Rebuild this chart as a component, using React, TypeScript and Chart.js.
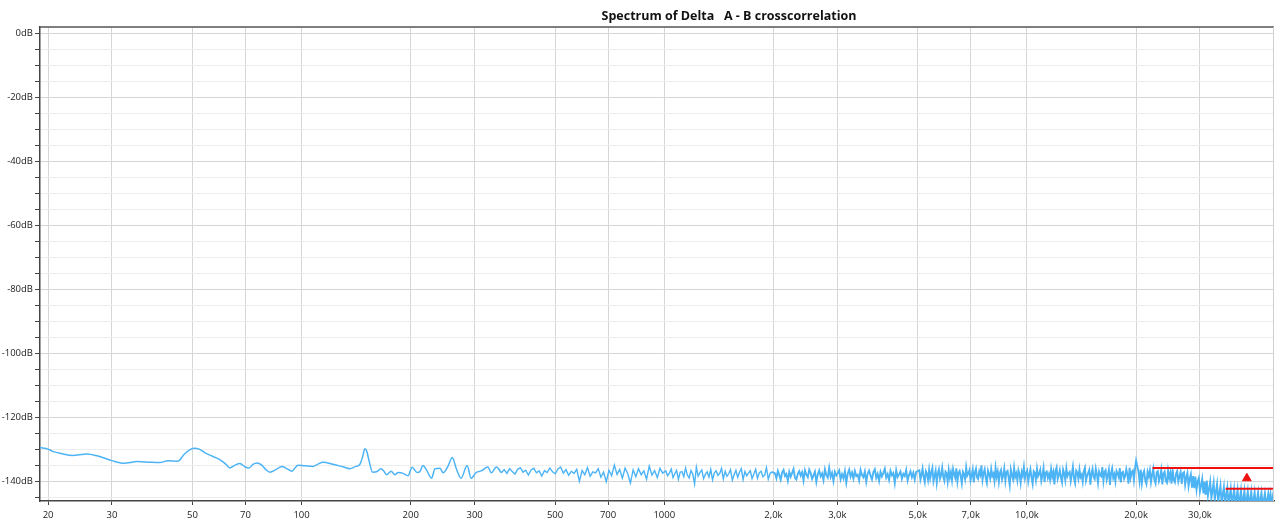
import React, { useEffect, useRef } from "react";
import { Chart, registerables } from "chart.js";

Chart.register(...registerables);

const TITLE = "Spectrum of Delta   A - B crosscorrelation";

const X_TICKS = [20, 30, 50, 70, 100, 200, 300, 500, 700, 1000, 2000, 3000, 5000, 7000, 10000, 20000, 30000];
const X_TICK_LABELS = ["20", "30", "50", "70", "100", "200", "300", "500", "700", "1000", "2,0k", "3,0k", "5,0k", "7,0k", "10,0k", "20,0k", "30,0k"];
const Y_TICKS = [0, -5, -10, -15, -20, -25, -30, -35, -40, -45, -50, -55, -60, -65, -70, -75, -80, -85, -90, -95, -100, -105, -110, -115, -120, -125, -130, -135, -140, -145];

// Smooth low-frequency part (Hz / dB)
const LOW_FREQ = [19.0, 20.0, 20.6, 22.0, 23.3, 25.6, 27.3, 30.0, 32.3, 35.3, 38.2, 40.7, 42.8, 45.6, 47.4, 48.9, 50.5, 52.2, 54.2, 57.0, 59.9, 61.8, 63.4, 65.5, 67.6, 69.8, 71.6, 73.4, 75.3, 77.7, 79.7, 81.8, 84.9, 88.3, 91.1, 94.0, 97.7, 102.1, 107.4, 110.9, 114.5, 121.9, 129.9, 135.9, 141.0, 144.7, 147.5, 149.4, 151.3, 153.3, 157.0, 161.5, 165.4, 168.5, 171.4, 176.6, 180.8, 184.6, 189.9, 196.6, 201.7, 208.1, 211.6, 216.2, 221.0, 228.2, 233.3, 240.8, 245.7, 253.0, 260.4, 266.7, 275.3, 286.0, 293.4, 303.0, 313.1, 326.2, 333.6, 344.4, 355.6];
const LOW_DB = [-129.3, -129.8, -130.5, -131.3, -131.8, -131.3, -131.9, -133.4, -134.2, -133.7, -133.9, -134.0, -133.4, -133.6, -131.5, -130.2, -129.5, -129.8, -131.0, -132.1, -133.3, -134.5, -135.7, -134.8, -134.3, -135.3, -135.7, -134.6, -134.1, -134.8, -136.2, -137.0, -136.2, -135.2, -135.9, -136.7, -134.8, -135.0, -135.2, -134.5, -133.9, -134.5, -135.3, -135.9, -135.2, -134.6, -132.0, -129.7, -130.5, -133.2, -137.0, -136.8, -135.9, -136.6, -137.8, -136.7, -137.8, -137.1, -137.3, -138.1, -135.5, -137.1, -136.9, -134.9, -136.3, -138.9, -135.9, -135.8, -137.2, -135.3, -132.4, -135.7, -138.9, -134.9, -138.9, -137.1, -136.6, -135.4, -137.2, -135.4, -137.2];

// Noisy part: FFT bins, each band given by its frequency range and its dB readings
const NOISE_1_RANGE = [362, 990];
const NOISE_1_DB = [-136.2, -137.4, -135.9, -136.8, -137.6, -136.1, -135.6, -137.0, -136.4, -137.9, -136.3, -135.8, -137.2, -136.6, -138.2, -136.5, -137.1, -135.7, -136.9, -137.5, -136.0, -135.4, -137.3, -136.2, -138.0, -136.7, -137.4, -136.1, -139.8, -136.5, -137.8, -135.6, -138.3, -136.9, -137.2, -135.9, -138.6, -137.0, -140.0, -136.4, -138.1, -134.8, -137.7, -136.2, -138.9, -135.7, -137.5, -140.4, -136.3, -138.4, -135.9, -137.8, -136.6, -139.2, -135.1, -137.9, -136.5, -138.7, -135.8, -137.3];

const NOISE_2_RANGE = [1010, 1980];
const NOISE_2_DB = [
  -136.6, -138.1, -137.3, -136.0, -138.7, -137.5, -136.4, -139.2, -137.0, -136.8,
  -138.4, -135.7, -137.9, -138.8, -136.5, -137.6, -140.7, -135.4, -138.2, -137.1,
  -136.3, -139.0, -137.7, -136.9, -138.5, -136.1, -139.4, -137.2, -136.6, -138.0,
  -137.4, -135.8, -139.1, -136.7, -138.3, -137.5, -136.2, -139.5, -137.8, -136.4,
  -138.6, -137.0, -135.9, -139.3, -136.8, -138.1, -137.3, -136.5, -139.0, -137.6,
  -136.1, -138.9, -137.2, -136.7, -138.4, -137.9, -135.6, -139.2, -137.4, -136.9,
];

const NOISE_3_RANGE = [2020, 4950];
const NOISE_3_DB = [
  -137.4, -138.9, -136.6, -137.9, -139.4, -137.1, -136.3, -138.2, -137.6, -139.7,
  -136.9, -138.4, -137.2, -136.0, -138.8, -139.3, -137.5, -136.7, -138.1, -137.0,
  -139.6, -136.4, -137.8, -138.6, -136.2, -137.3, -139.1, -138.0, -136.8, -140.1,
  -137.7, -136.5, -138.3, -137.4, -139.5, -136.1, -137.9, -138.7, -135.6, -138.5,
  -137.2, -139.8, -136.9, -138.0, -137.3, -136.4, -139.2, -137.6, -138.9, -136.7,
  -140.3, -137.5, -136.2, -138.4, -137.1, -139.0, -136.6, -138.2, -137.8, -139.6,
  -136.3, -137.9, -138.6, -136.8, -140.0, -137.4, -136.5, -138.1, -139.3, -137.0,
  -136.1, -138.8, -137.5, -139.7, -136.9, -138.3, -137.2, -135.9, -138.7, -137.6,
  -139.4, -136.6, -138.0, -137.3, -140.4, -136.4, -138.5, -137.7, -136.8, -139.1,
  -137.5, -138.2, -136.3, -139.6, -137.9, -136.7, -138.6, -137.2, -139.3, -136.9,
];

const NOISE_4_RANGE = [5050, 20000];
const NOISE_4_DB = [
  -136.4, -139.3, -137.8, -135.9, -138.6, -140.1, -136.7, -137.5, -139.4, -136.2,
  -138.9, -137.1, -135.7, -139.8, -138.2, -136.5, -140.3, -137.4, -136.1, -139.0,
  -137.9, -135.6, -138.5, -139.7, -136.8, -137.3, -140.0, -136.3, -138.7, -137.0,
  -139.5, -136.0, -137.6, -138.8, -135.8, -139.9, -137.2, -136.6, -138.3, -140.5,
  -136.9, -137.7, -139.2, -135.5, -138.1, -137.4, -136.4, -139.6, -138.0, -136.2,
  -140.2, -137.1, -135.9, -138.6, -139.1, -136.7, -137.8, -134.9, -139.4, -137.3,
  -136.1, -138.9, -140.4, -136.5, -137.6, -139.0, -136.0, -138.2, -137.5, -139.8,
  -135.7, -138.4, -136.8, -140.0, -137.2, -136.3, -139.3, -138.0, -135.8, -139.7,
  -137.0, -136.6, -138.7, -141.1, -136.2, -137.9, -139.2, -135.6, -138.5, -137.4,
  -139.6, -136.4, -137.7, -140.3, -136.9, -138.1, -135.4, -139.0, -137.3, -136.5,
  -139.9, -137.8, -136.1, -138.6, -140.6, -136.7, -137.2, -139.4, -135.9, -138.3,
  -137.5, -136.3, -139.7, -138.0, -135.7, -140.1, -137.1, -136.8, -138.8, -137.6,
  -139.3, -136.0, -138.4, -137.0, -140.8, -136.6, -135.5, -139.1, -137.9, -136.4,
  -138.7, -140.2, -136.2, -137.4, -139.5, -135.8, -138.2, -137.3, -136.9, -139.8,
  -137.7, -135.3, -138.9, -140.4, -136.5, -137.1, -139.0, -136.1, -138.5, -137.8,
  -140.0, -136.7, -135.6, -139.6, -138.1, -137.2, -136.3, -140.9, -137.5, -136.0,
  -138.6, -139.2, -135.9, -137.6, -140.3, -136.8, -137.9, -138.3, -135.4, -139.7,
  -137.0, -136.4, -139.4, -138.0, -136.2, -141.0, -137.3, -135.8, -138.8, -137.7,
  -139.9, -136.6, -137.4, -138.5, -135.7, -140.2, -137.1, -136.9, -139.1, -138.2,
  -136.1, -137.8, -140.6, -135.6, -138.7, -137.0, -136.5, -139.5, -135.9, -133.4,
];

const NOISE_5_RANGE = [20300, 48000];
const NOISE_5_DB = [
  -136.8, -139.9, -136.2, -140.4, -137.5, -136.6, -139.6, -140.7, -136.9, -138.3,
  -136.4, -140.1, -137.8, -135.9, -139.4, -140.5, -137.1, -136.7, -139.8, -138.6,
  -136.3, -140.8, -137.4, -136.8, -139.7, -140.3, -136.5, -138.9, -137.2, -140.6,
  -136.1, -139.5, -140.2, -137.6, -136.7, -139.9, -138.4, -136.9, -140.7, -137.3,
  -137.0, -140.9, -138.6, -137.2, -141.3, -139.0, -137.6, -141.8, -138.2, -142.0,
  -138.4, -142.5, -139.9, -138.8, -143.0, -141.2, -139.1, -143.6, -140.0, -144.1,
  -139.6, -144.4, -142.3, -140.0, -145.0, -142.8, -140.3, -145.6, -143.1, -140.7,
  -146.2, -143.5, -141.2, -146.8, -144.0, -141.6, -147.0, -144.3, -141.9, -147.0,
  -144.6, -142.1, -147.0, -144.9, -142.3, -147.0, -145.2, -142.5, -147.0, -145.4,
  -142.6, -147.0, -145.5, -142.8, -147.0, -145.6, -142.9, -147.0, -145.7, -143.0,
  -147.0, -145.8, -143.2, -147.0, -145.9, -143.3, -147.0, -146.0, -143.4, -147.0,
  -146.0, -143.6, -147.0, -146.0, -143.7, -147.0, -143.9, -147.0, -144.6, -147.0,
];

// Red limit markers
const LIMIT_HIGH_FREQ = [22200, 48000];
const LIMIT_HIGH_DB = [-135.7, -135.7];
const LIMIT_LOW_FREQ = [35300, 48000];
const LIMIT_LOW_DB = [-142.2, -142.2];
const MARKER_FREQ = [40400];
const MARKER_DB = [-138.9];

const toPoints = (xs: number[], ys: number[]) => xs.map((x, i) => ({ x, y: ys[i] }));
const bandPoints = (range: number[], db: number[]) =>
  db.map((y, i) => ({ x: range[0] * Math.pow(range[1] / range[0], i / (db.length - 1)), y }));

const FONT = { family: '"Open Sans", "Noto Sans", sans-serif', size: 9.5 };

const framePlugin = {
  id: "frame",
  afterDraw(chart: any) {
    const { ctx, chartArea } = chart;
    const { left, right, top, bottom } = chartArea;
    ctx.save();
    ctx.strokeStyle = "#555";
    ctx.lineWidth = 1.5;
    ctx.beginPath();
    ctx.moveTo(left, top);
    ctx.lineTo(right, top);
    ctx.stroke();
    ctx.strokeStyle = "#d0d0d0";
    ctx.lineWidth = 1;
    ctx.beginPath();
    ctx.moveTo(right - 0.5, top);
    ctx.lineTo(right - 0.5, bottom);
    ctx.stroke();
    ctx.font = 'bold 12.5px "Open Sans", "Noto Sans", sans-serif';
    ctx.fillStyle = "#111";
    ctx.textAlign = "center";
    ctx.textBaseline = "middle";
    ctx.fillText(TITLE, 729, 16);
    ctx.restore();
  },
};

export default function App() {
  const ref = useRef<HTMLCanvasElement | null>(null);

  useEffect(() => {
    document.body.style.margin = "0";
    if (!ref.current) return;
    const lowPts = toPoints(LOW_FREQ, LOW_DB);
    const midPts = [
      lowPts[lowPts.length - 1],
      ...bandPoints(NOISE_1_RANGE, NOISE_1_DB),
      ...bandPoints(NOISE_2_RANGE, NOISE_2_DB),
    ];
    const highPts = [
      midPts[midPts.length - 1],
      ...bandPoints(NOISE_3_RANGE, NOISE_3_DB),
      ...bandPoints(NOISE_4_RANGE, NOISE_4_DB),
      ...bandPoints(NOISE_5_RANGE, NOISE_5_DB),
    ];
    const blue = "#4cb4f5";
    const red = "#f01010";
    const chart = new Chart(ref.current, {
      type: "line",
      data: {
        datasets: [
          {
            type: "scatter",
            data: toPoints(MARKER_FREQ, MARKER_DB),
            pointStyle: "triangle",
            pointRadius: 5,
            backgroundColor: red,
            borderColor: red,
            borderWidth: 1,
          } as any,
          {
            data: toPoints(LIMIT_HIGH_FREQ, LIMIT_HIGH_DB),
            borderColor: red,
            borderWidth: 2,
            pointRadius: 0,
          },
          {
            data: toPoints(LIMIT_LOW_FREQ, LIMIT_LOW_DB),
            borderColor: red,
            borderWidth: 2,
            pointRadius: 0,
          },
          {
            data: lowPts,
            borderColor: blue,
            borderWidth: 1.5,
            pointRadius: 0,
            cubicInterpolationMode: "monotone",
          },
          {
            data: midPts,
            borderColor: blue,
            borderWidth: 1.4,
            pointRadius: 0,
            tension: 0,
          },
          {
            data: highPts,
            borderColor: blue,
            borderWidth: 1.9,
            pointRadius: 0,
            tension: 0,
          },
        ],
      },
      options: {
        animation: false,
        responsive: false,
        maintainAspectRatio: false,
        parsing: false,
        normalized: true,
        layout: { padding: { top: 27, right: 5, left: 0, bottom: 0 } },
        plugins: { legend: { display: false }, tooltip: { enabled: false }, title: { display: false } },
        scales: {
          x: {
            type: "logarithmic",
            min: 19,
            max: 48000,
            afterBuildTicks: (s: any) => {
              s.ticks = X_TICKS.map((v) => ({ value: v }));
            },
            afterFit: (s: any) => {
              s.height = 26;
            },
            ticks: {
              autoSkip: false,
              maxRotation: 0,
              minRotation: 0,
              padding: 5,
              color: "#222",
              font: FONT,
              callback: (v: any) => {
                const i = X_TICKS.indexOf(Number(v));
                return i >= 0 ? X_TICK_LABELS[i] : "";
              },
            },
            grid: { color: "#d6d6d6", tickColor: "#444", tickLength: 4, lineWidth: 1 },
            border: { color: "#444", width: 1.5 },
          },
          y: {
            type: "linear",
            min: -146,
            max: 2,
            afterBuildTicks: (s: any) => {
              s.ticks = Y_TICKS.map((v) => ({ value: v }));
            },
            afterFit: (s: any) => {
              s.width = 40;
            },
            ticks: {
              autoSkip: false,
              padding: 2,
              color: "#222",
              font: FONT,
              callback: (v: any) => (Number(v) % 20 === 0 ? `${v}dB` : ""),
            },
            grid: {
              color: (c: any) => (c.tick && c.tick.value % 20 === 0 ? "#d6d6d6" : "#ededed"),
              tickColor: "#444",
              tickLength: 5,
              lineWidth: 1,
            },
            border: { color: "#444", width: 1.5 },
          },
        },
      },
      plugins: [framePlugin],
    });
    return () => chart.destroy();
  }, []);

  return (
    <div style={{ width: 1280, height: 527, background: "#fff" }}>
      <canvas ref={ref} width={1280} height={527} />
    </div>
  );
}
